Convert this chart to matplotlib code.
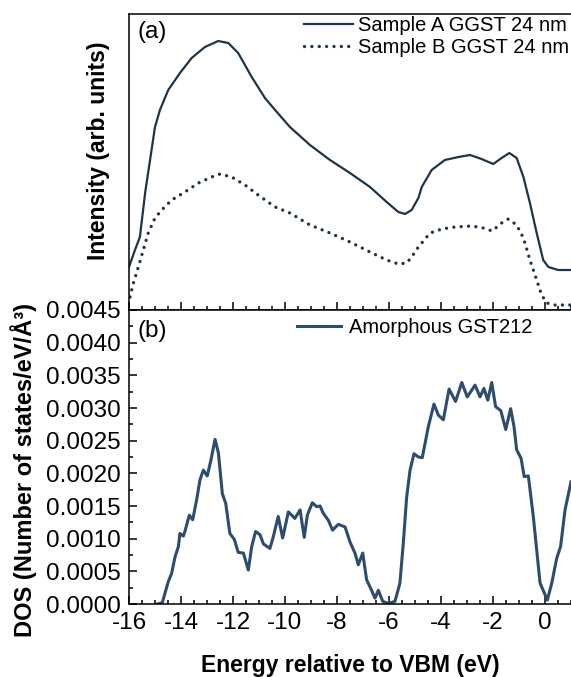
# XPS valence band (a) vs. calculated DOS (b)
import numpy as np
import matplotlib.pyplot as plt
from matplotlib.ticker import MultipleLocator, FormatStrFormatter

plt.rcParams['font.family'] = ['Liberation Sans', 'DejaVu Sans']
plt.rcParams['axes.unicode_minus'] = False

# (a) measured spectra, intensity in arbitrary units
energy_a = [-16.0, -15.77, -15.58, -15.38, -15.19, -15.0, -14.81, -14.49, -14.04, -13.59,
            -13.08, -12.57, -12.18, -11.8, -11.28, -10.77, -10.38, -9.81, -9.04, -8.27,
            -7.5, -6.73, -6.09, -5.64, -5.38, -5.13, -4.87, -4.74, -4.36, -3.85,
            -3.33, -2.88, -2.44, -1.99, -1.67, -1.37, -1.09, -0.83, -0.58, -0.32,
            -0.07, 0.13, 0.51, 1.0]
sample_a = [43, 60, 73, 117, 150, 183, 200, 220, 237, 252,
            263, 269, 267, 257, 233, 212, 200, 183, 165, 150,
            137, 123, 108, 98, 96, 100, 112, 123, 140, 150,
            153, 155, 151, 146, 152, 157, 152, 133, 107, 77,
            50, 43, 40, 40]

energy_b = [-15.96, -15.83, -15.64, -15.45, -15.26, -15.0, -14.74, -14.36, -13.85, -13.33,
            -12.82, -12.5, -12.05, -11.54, -11.03, -10.38, -9.81, -9.04, -8.27, -7.5,
            -6.73, -6.09, -5.64, -5.32, -5.13, -4.87, -4.74, -4.42, -3.97, -3.46,
            -2.82, -2.37, -2.03, -1.67, -1.41, -1.09, -0.83, -0.58, -0.32, -0.13,
            0.07, 0.38, 1.0]
sample_b = [13, 27, 43, 60, 77, 92, 100, 110, 118, 127,
            133, 136, 133, 125, 115, 103, 97, 85, 77, 68,
            58, 50, 46, 47, 53, 63, 67, 77, 81, 83,
            84, 82, 79, 87, 91, 85, 72, 50, 30, 15,
            7, 5, 5]

# (b) calculated DOS of amorphous GST212
energy_dos = [-14.9, -14.72, -14.62, -14.49, -14.36, -14.23, -14.1, -14.04, -13.91, -13.85,
              -13.68, -13.55, -13.4, -13.27, -13.14, -12.99, -12.85, -12.69, -12.56, -12.41,
              -12.28, -12.12, -11.95, -11.8, -11.6, -11.41, -11.28, -11.13, -10.96, -10.83,
              -10.58, -10.45, -10.26, -10.09, -9.87, -9.62, -9.42, -9.26, -9.14, -8.95,
              -8.78, -8.65, -8.53, -8.33, -8.17, -7.95, -7.69, -7.5, -7.31, -7.18,
              -7.01, -6.86, -6.67, -6.54, -6.41, -6.24, -6.03, -5.77, -5.58, -5.45,
              -5.32, -5.19, -5.04, -4.87, -4.72, -4.49, -4.27, -4.1, -3.91, -3.69,
              -3.44, -3.2, -2.99, -2.69, -2.5, -2.35, -2.2, -2.05, -1.9, -1.7,
              -1.51, -1.32, -1.19, -1.09, -0.92, -0.8, -0.64, -0.45, -0.32, -0.19,
              -0.07, 0.09, 0.26, 0.45, 0.6, 0.77, 1.0]
dos = [0.0, 0.00002, 0.00016, 0.00034, 0.00047, 0.00072, 0.00088, 0.00108, 0.00104, 0.00111,
       0.00136, 0.00129, 0.00159, 0.0019, 0.00205, 0.00196, 0.0022, 0.00252, 0.00231, 0.00169,
       0.00154, 0.00108, 0.00099, 0.00079, 0.00078, 0.00052, 0.00088, 0.00111, 0.00106, 0.00092,
       0.00085, 0.00103, 0.00134, 0.00101, 0.00141, 0.00131, 0.00144, 0.00102, 0.00136, 0.00155,
       0.00149, 0.0015, 0.00139, 0.00128, 0.00113, 0.00122, 0.00118, 0.00095, 0.00078, 0.0006,
       0.00078, 0.00037, 0.00021, 0.00009, 0.00021, 0.00004, 0.00001, 0.00004, 0.00032, 0.00093,
       0.00164, 0.00205, 0.0023, 0.00225, 0.00224, 0.00271, 0.00306, 0.00289, 0.00282, 0.00329,
       0.0031, 0.00339, 0.00317, 0.00335, 0.00317, 0.0033, 0.00312, 0.00339, 0.00302, 0.00296,
       0.00267, 0.00299, 0.00271, 0.00236, 0.00223, 0.00195, 0.00196, 0.00134, 0.00083, 0.00032,
       0.00021, 0.00006, 0.00032, 0.0007, 0.00088, 0.00144, 0.00187]

col_exp = '#1e3449'
col_dos = '#2c4c70'

fig = plt.figure(figsize=(5.71, 6.77), dpi=100)
ax1 = fig.add_axes([0.2259, 0.5421, 0.7741, 0.4372])
ax2 = fig.add_axes([0.2259, 0.1078, 0.7741, 0.4343], sharex=ax1)

ax1.plot(energy_a, sample_a, color=col_exp, lw=1.6, label='Sample A GGST 24 nm')
ax1.plot(energy_b, sample_b, color=col_exp, lw=2.4, ls=(0, (0.01, 2.2)),
         dash_capstyle='round', label='Sample B GGST 24 nm')
ax1.set_ylim(0, 296)
ax1.set_xlim(-16, 1.0)
ax1.set_yticks([])
ax1.tick_params(axis='x', which='both', direction='in', labelbottom=False)
ax1.set_ylabel('Intensity (arb. units)', fontsize=16.5, fontweight='bold')
ax1.yaxis.set_label_coords(-0.043, 0.537)
ax1.text(0.02, 0.975, '(a)', transform=ax1.transAxes, fontsize=17.5, va='top', ha='left')
ax1.legend(loc='upper right', bbox_to_anchor=(1.0, 1.0), frameon=False, fontsize=14.5,
           handlelength=2.4, handletextpad=0.25, labelspacing=0.15, borderpad=0.1,
           borderaxespad=0)

ax2.plot(energy_dos, dos, color=col_dos, lw=2.2, label='Amorphous GST212')
ax2.set_ylim(0, 0.0045)
ax2.yaxis.set_major_locator(MultipleLocator(0.0005))
ax2.yaxis.set_minor_locator(MultipleLocator(0.00025))
ax2.yaxis.set_major_formatter(FormatStrFormatter('%.4f'))
ax2.xaxis.set_major_locator(MultipleLocator(2))
ax2.xaxis.set_minor_locator(MultipleLocator(0.5))
ax2.tick_params(which='both', direction='in', labelsize=17.5, top=False, right=False)
ax2.tick_params(which='major', length=6, width=1.1, pad=6)
ax2.tick_params(which='minor', length=3, width=1.1)
ax1.tick_params(which='major', length=6, width=1.1)
ax1.tick_params(which='minor', length=3, width=1.1)
ax2.set_xlabel('Energy relative to VBM (eV)', fontsize=16.5, fontweight='bold', labelpad=14)
ax2.set_ylabel('DOS (Number of states/eV/Å³)', fontsize=17, fontweight='bold')
ax2.yaxis.set_label_coords(-0.208, 0.456)
ax2.text(0.02, 0.965, '(b)', transform=ax2.transAxes, fontsize=17.5, va='top', ha='left')
ax2.legend(loc='upper left', bbox_to_anchor=(0.37, 0.985), frameon=False, fontsize=14.5,
           handlelength=2.2, handletextpad=0.4, borderpad=0.2, borderaxespad=0)

for ax in (ax1, ax2):
    ax.spines['right'].set_visible(False)
    for s in ('left', 'top', 'bottom'):
        ax.spines[s].set_linewidth(1.1)

plt.savefig('out.png', dpi=100)
